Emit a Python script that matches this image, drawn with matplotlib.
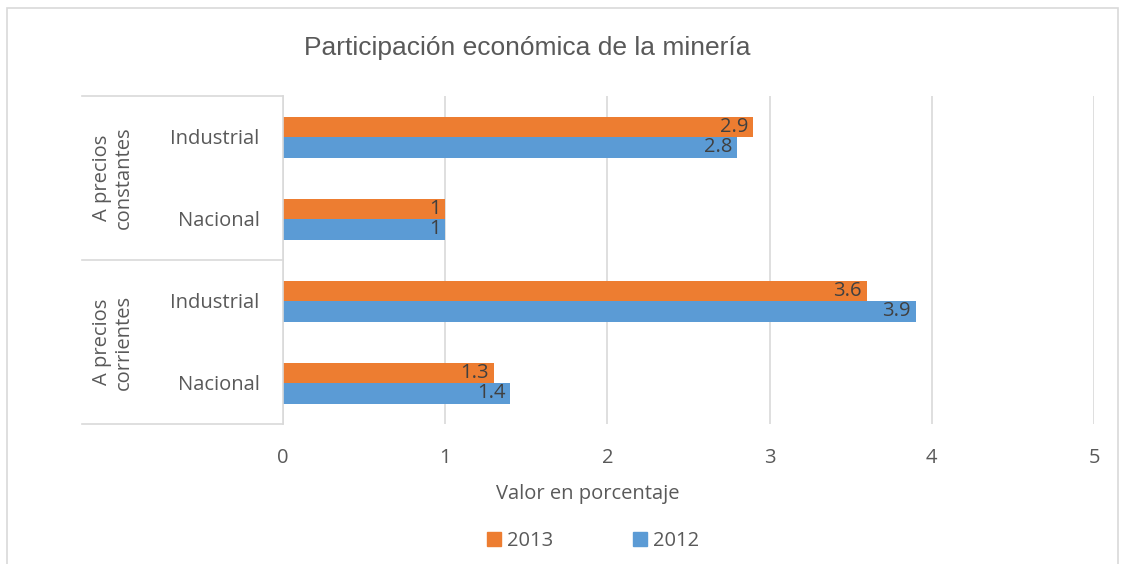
import matplotlib.pyplot as plt
import matplotlib.patches as mpatches
import numpy as np

# data (bottom to top)
categories = ["Nacional", "Industrial", "Nacional", "Industrial"]
groups = ["A precios\ncorrientes", "A precios\nconstantes"]
v2013 = [1.3, 3.6, 1.0, 2.9]
v2012 = [1.4, 3.9, 1.0, 2.8]
labels2013 = ["1.3", "3.6", "1", "2.9"]
labels2012 = ["1.4", "3.9", "1", "2.8"]

orange = "#ED7D31"
blue = "#5B9BD5"
txt = "#595959"
grid = "#D9D9D9"
font = ["Open Sans", "DejaVu Sans"]
fs = 14.5

fig = plt.figure(figsize=(11.27, 5.64), dpi=100)
ax = fig.add_axes([283 / 1127, 1 - 424 / 564, (1094 - 283) / 1127, (424 - 96) / 564])

y = np.arange(len(categories))
h = 0.25
b13 = ax.barh(y + h / 2, v2013, height=h, color=orange)
b12 = ax.barh(y - h / 2, v2012, height=h, color=blue)

for bars, labs in [(b13, labels2013), (b12, labels2012)]:
    for bar, lab in zip(bars, labs):
        ax.text(bar.get_width() - 0.03, bar.get_y() + bar.get_height() / 2, lab,
                ha="right", va="center", fontsize=fs, color="#404040", family=font)

ax.set_xlim(0, 5)
ax.set_ylim(-0.5, 3.5)
ax.set_xticks(range(6))
ax.set_xticklabels([str(i) for i in range(6)], family=font, fontsize=fs, color=txt)
ax.set_yticks(y)
ax.set_yticklabels(categories, family=font, fontsize=fs, color=txt)
ax.tick_params(axis="both", length=0)
ax.tick_params(axis="x", pad=17)
ax.tick_params(axis="y", pad=17)
ax.grid(axis="x", color=grid, lw=1.2)
ax.set_axisbelow(True)
for s in ["top", "right", "bottom"]:
    ax.spines[s].set_visible(False)
ax.spines["left"].set_color(grid)
ax.spines["left"].set_linewidth(1.2)

# group separators
for yy in [96, 260, 424]:
    fig.add_artist(plt.Line2D([82 / 1127, 283 / 1127], [1 - yy / 564] * 2,
                              color=grid, lw=1.2))
for g, yc in zip(groups, [342, 178]):
    fig.text(113 / 1127, 1 - yc / 564, g, rotation=90, ha="center", va="center",
             fontsize=fs, color=txt, family=font, linespacing=1.15)

fig.text(527 / 1127, 1 - 48 / 564, "Participación económica de la minería",
         ha="center", va="center", fontsize=19, color=txt, family="Liberation Sans")
fig.text(588 / 1127, 1 - 494 / 564, "Valor en porcentaje",
         ha="center", va="center", fontsize=fs, color=txt, family=font)

handles = [mpatches.Patch(color=orange, label="2013"), mpatches.Patch(color=blue, label="2012")]
fig.legend(handles=handles, loc="center", bbox_to_anchor=(593 / 1127, 1 - 541 / 564),
           ncol=2, frameon=False, handlelength=0.7, handleheight=0.7, handletextpad=0.3,
           columnspacing=3.95, prop={"family": font, "size": fs}, labelcolor=txt)

fig.add_artist(mpatches.Rectangle((7 / 1127, -0.05), (1118 - 7) / 1127, 1.05 - 8 / 564,
                                  fill=False, edgecolor=grid, lw=1.2, transform=fig.transFigure))

fig.savefig("out.png", dpi=100)
